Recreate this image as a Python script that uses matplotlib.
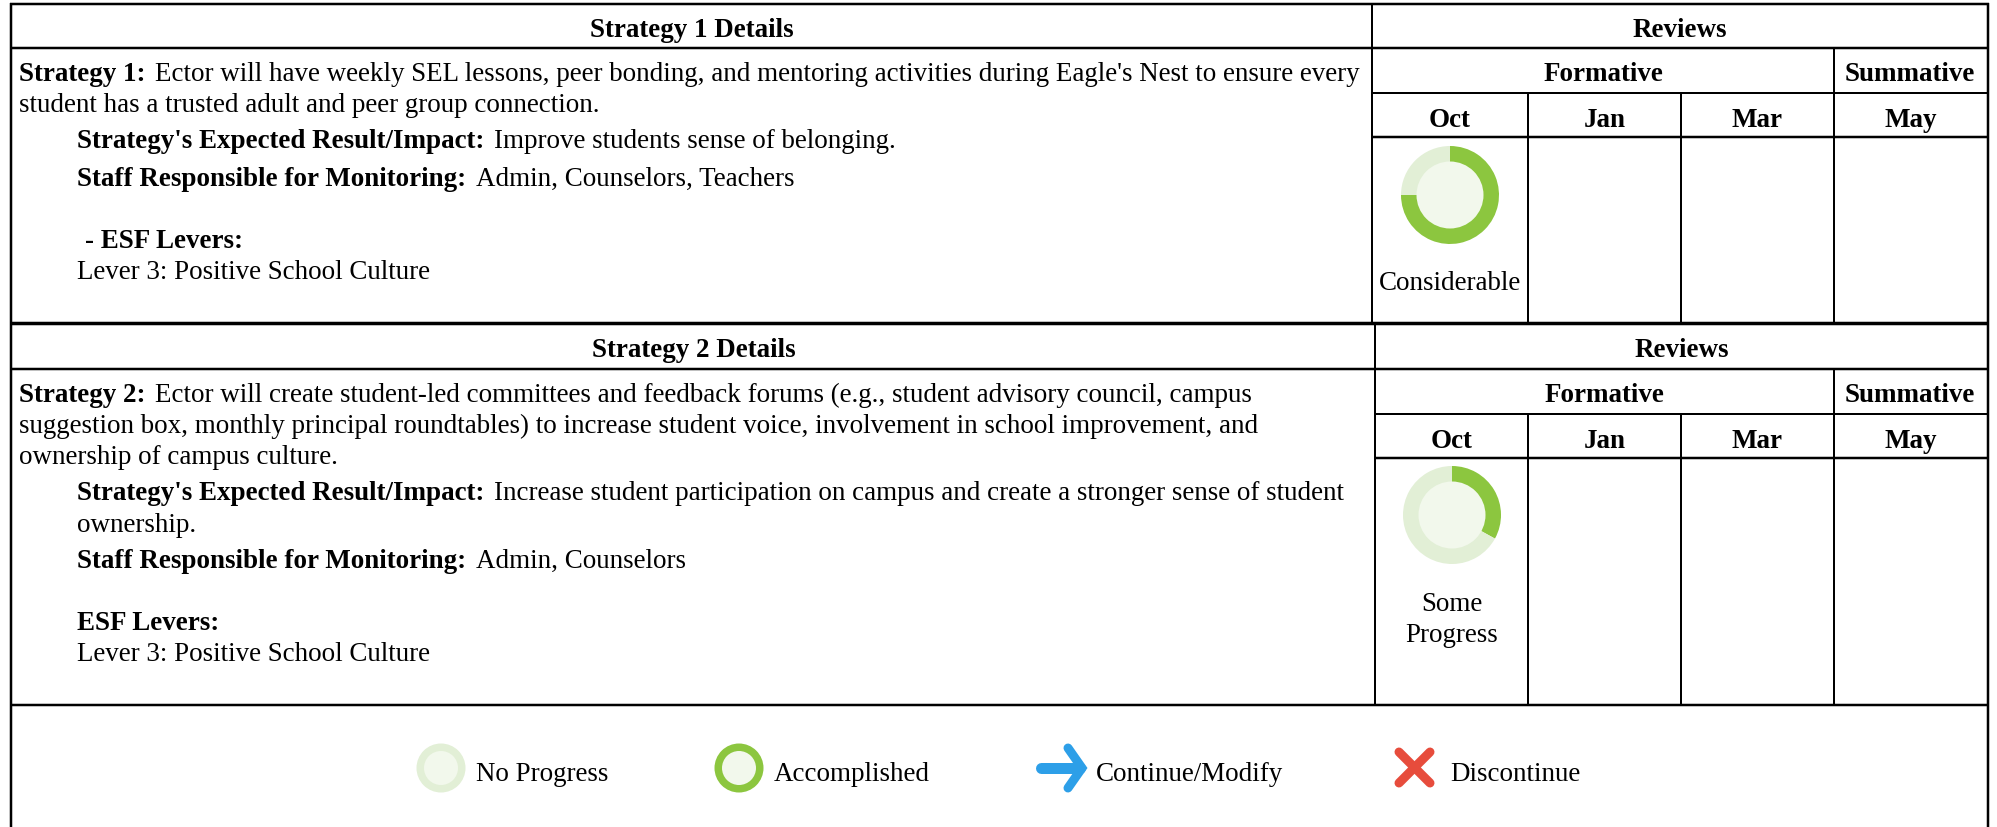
import matplotlib
matplotlib.use("Agg")
import matplotlib.pyplot as plt
from matplotlib.patches import Circle

plt.rcParams['font.family'] = ['Liberation Serif', 'DejaVu Serif']

W, H = 1997, 828
FS = 27.0 * 0.72
BLACK = '#000000'
GREEN, PALE, CORE = '#8cc63f', '#e2efd6', '#f2f8ec'

# ---- data -------------------------------------------------------------
months = ['Oct', 'Jan', 'Mar', 'May']
review_titles = ['Reviews', 'Formative', 'Summative']
strategy_titles = ['Strategy 1 Details', 'Strategy 2 Details']
progress_share = [75, 33]
progress_labels = [['Considerable'], ['Some', 'Progress']]
legend_labels = ['No Progress', 'Accomplished', 'Continue/Modify', 'Discontinue']

strategy1_rows = [
    ('Strategy 1:', "Ector will have weekly SEL lessons, peer bonding, and mentoring activities during Eagle's Nest to ensure every"),
    ('', 'student has a trusted adult and peer group connection.'),
    ("Strategy's Expected Result/Impact:", 'Improve students sense of belonging.'),
    ('Staff Responsible for Monitoring:', 'Admin, Counselors, Teachers'),
    ('- ESF Levers:', ''),
    ('', 'Lever 3: Positive School Culture'),
]
strategy2_rows = [
    ('Strategy 2:', 'Ector will create student-led committees and feedback forums (e.g., student advisory council, campus'),
    ('', 'suggestion box, monthly principal roundtables) to increase student voice, involvement in school improvement, and'),
    ('', 'ownership of campus culture.'),
    ("Strategy's Expected Result/Impact:", 'Increase student participation on campus and create a stronger sense of student'),
    ('', 'ownership.'),
    ('Staff Responsible for Monitoring:', 'Admin, Counselors'),
    ('ESF Levers:', ''),
    ('', 'Lever 3: Positive School Culture'),
]

# ---- layout (pixels) ---------------------------------------------------
fig = plt.figure(figsize=(W / 100, H / 100), dpi=100, facecolor='white')
ax = fig.add_axes([0, 0, 1, 1])
ax.set_xlim(0, W)
ax.set_ylim(H, 0)
ax.axis('off')
renderer = fig.canvas.get_renderer()


def hline(y, x0, x1, lw=2.0):
    ax.plot([x0, x1], [y, y], color=BLACK, lw=lw * 0.72, solid_capstyle='butt')


def vline(x, y0, y1, lw=2.0):
    ax.plot([x, x], [y0, y1], color=BLACK, lw=lw * 0.72, solid_capstyle='butt')


def centered(x, y, s, bold=False):
    ax.text(x, y, s, ha='center', va='baseline', fontsize=FS,
            fontweight='bold' if bold else 'normal', color=BLACK)


def rich(x, y, bold, normal):
    if bold:
        t = ax.text(x, y, bold, ha='left', va='baseline', fontsize=FS, fontweight='bold', color=BLACK)
        bb = t.get_window_extent(renderer)
        x = bb.x1 + 9.5
    if normal:
        ax.text(x, y, normal, ha='left', va='baseline', fontsize=FS, color=BLACK)


def donut(cx, cy, share, r_out=49, r_in=33.5):
    d = fig.add_axes([(cx - r_out) / W, 1 - (cy + r_out) / H, 2 * r_out / W, 2 * r_out / H])
    d.pie([share, 100 - share], colors=[GREEN, PALE], startangle=90, counterclock=False,
          radius=1, wedgeprops=dict(linewidth=0))
    d.add_patch(Circle((0, 0), r_in / r_out, fc=CORE, ec='none', zorder=3))
    d.set_xlim(-1, 1)
    d.set_ylim(-1, 1)
    d.axis('off')


LEFT, RIGHT = 11.5, 1988.5
COLS = [1528, 1681, 1834, RIGHT]


def block(ys, split, title, rows, text_xs, text_ys, share, labels, label_ys, donut_xy):
    top, y1, y2, y3, bottom = ys
    hline(top, LEFT - 1, RIGHT + 1, 2.5)
    hline(y1, LEFT, RIGHT, 2.5)
    hline(y2, split, RIGHT)
    hline(y3, split, RIGHT, 2.5)
    hline(bottom, LEFT, RIGHT, 2.5)
    vline(split, top, bottom)
    vline(COLS[2], y1, bottom)
    vline(COLS[0], y2, bottom)
    vline(COLS[1], y2, bottom)
    centered((LEFT + split) / 2, top + 32, title, True)
    centered((split + RIGHT) / 2, top + 32, review_titles[0], True)
    centered((split + COLS[2]) / 2, y1 + 32, review_titles[1], True)
    centered((COLS[2] + RIGHT) / 2 - 1, y1 + 32, review_titles[2], True)
    edges = [split] + COLS
    for i, m in enumerate(months):
        centered((edges[i] + edges[i + 1]) / 2, y2 + 33, m, True)
    for (b, n), tx, ty in zip(rows, text_xs, text_ys):
        rich(tx, ty, b, n)
    donut(donut_xy[0], donut_xy[1], share)
    for s, ly in zip(labels, label_ys):
        centered((edges[0] + edges[1]) / 2, ly, s)


block((5, 49, 94, 138, 324), 1372, strategy_titles[0], strategy1_rows,
      [19, 19, 77, 77, 85, 77], [81, 112, 148, 186, 248, 279],
      progress_share[0], progress_labels[0], [290], (1450, 196))
block((325, 370, 415, 459, 706), 1375.5, strategy_titles[1], strategy2_rows,
      [19, 19, 19, 77, 77, 77, 77, 77], [402, 433, 464, 500, 532, 568, 630, 661],
      progress_share[1], progress_labels[1], [611, 642], (1452, 516))

vline(LEFT, 4, H, 2.5)
vline(RIGHT, 4, H, 2.5)

# legend
for cx, ring in zip([441, 739], [PALE, GREEN]):
    ax.add_patch(Circle((cx, 769), 24.5, fc=ring, ec='none'))
    ax.add_patch(Circle((cx, 769), 17, fc=CORE, ec='none'))
BLUE, RED = '#2d9fe8', '#e74c3c'
ax.plot([1041, 1080], [769, 769], color=BLUE, lw=11 * 0.72, solid_capstyle='round')
ax.plot([1068, 1082, 1068], [749, 769, 789], color=BLUE, lw=9 * 0.72,
        solid_capstyle='round', solid_joinstyle='miter')
ax.plot([1399, 1430], [753, 784], color=RED, lw=9 * 0.72, solid_capstyle='round')
ax.plot([1399, 1430], [784, 753], color=RED, lw=9 * 0.72, solid_capstyle='round')
for x, s in zip([476.5, 774, 1096, 1450], legend_labels):
    ax.text(x, 781, s, ha='left', va='baseline', fontsize=FS, color=BLACK)

fig.savefig('out.png', dpi=100, facecolor='white')
